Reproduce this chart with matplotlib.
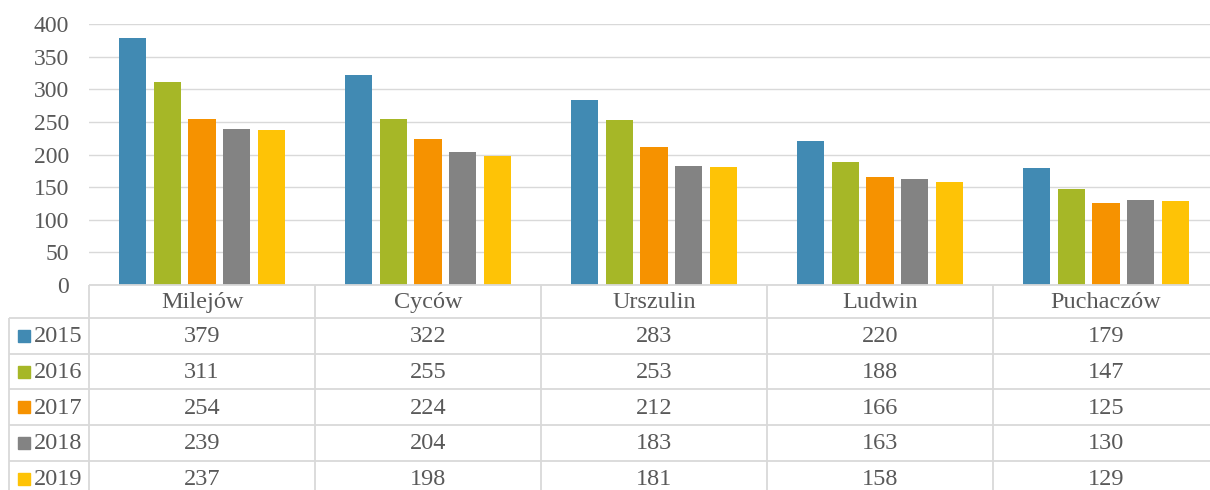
import matplotlib
matplotlib.use("Agg")
import matplotlib.pyplot as plt
import numpy as np

categories = ["Milejów", "Cyców", "Urszulin", "Ludwin", "Puchaczów"]
years = ["2015", "2016", "2017", "2018", "2019"]
v2015 = [379, 322, 283, 220, 179]
v2016 = [311, 255, 253, 188, 147]
v2017 = [254, 224, 212, 166, 125]
v2018 = [239, 204, 183, 163, 130]
v2019 = [237, 198, 181, 158, 129]
series = [v2015, v2016, v2017, v2018, v2019]
colors = ["#418AB3", "#A6B727", "#F69200", "#838383", "#FEC306"]
yticks = [0, 50, 100, 150, 200, 250, 300, 350, 400]

plt.rcParams['font.family'] = ['Liberation Serif', 'DejaVu Serif']
TXT = "#595959"
GRID = "#D9D9D9"
FS = 17.5
FS_Y = 17

W, H = 1210, 490
fig = plt.figure(figsize=(W / 100, H / 100), dpi=100)

left_px, right_px = 89, 1219
top_px, bottom_px = 24, 285
ax = fig.add_axes([left_px / W, 1 - bottom_px / H, (right_px - left_px) / W, (bottom_px - top_px) / H])
x = np.arange(len(categories))
pitch = 0.1535
bw = 0.122
for i, (vals, c) in enumerate(zip(series, colors)):
    ax.bar(x + (i - 2) * pitch, vals, width=bw, color=c, zorder=3)
ax.set_xlim(-0.5, len(categories) - 0.5)
ax.set_ylim(0, 400)
ax.set_yticks(yticks)
ax.set_yticklabels([str(t) for t in yticks], fontsize=FS_Y, color=TXT)
ax.tick_params(axis='y', length=0, pad=14.5)
ax.set_xticks([])
for s in ax.spines.values():
    s.set_visible(False)
ax.grid(axis='y', color=GRID, linewidth=1.0, zorder=0)
ax.set_axisbelow(True)

# table axes: x in category units, y in pixels from the axis bottom downwards
tab = fig.add_axes([left_px / W, 0, (right_px - left_px) / W, (H - bottom_px) / H])
tab.set_xlim(-0.5, len(categories) - 0.5)
tab.set_ylim(H - bottom_px, 0)
tab.axis('off')

cw_px = (right_px - left_px) / len(categories)
left_col = -0.5 - (left_px - 9) / cw_px
header_h = 33
row_h = 35.7
row_tops = [header_h + k * row_h for k in range(len(years) + 1)]
LW = 1.3
kw = dict(color=GRID, linewidth=LW, clip_on=False, solid_capstyle='butt')

# horizontal lines
tab.plot([-0.5, len(categories) - 0.5], [0, 0], **kw)
for yy in row_tops:
    tab.plot([left_col, len(categories) - 0.5], [yy, yy], **kw)
# vertical lines
for b in np.arange(-0.5, len(categories), 1.0):
    tab.plot([b, b], [0, H], **kw)
tab.plot([left_col, left_col], [header_h, H], **kw)

# header
for i, cat in enumerate(categories):
    tab.text(i, header_h / 2 + 1, cat, ha='center', va='center', fontsize=FS, color=TXT)
# rows
sq = 12 / cw_px
for r, (yr, vals, c) in enumerate(zip(years, series, colors)):
    yc = header_h + (r + 0.5) * row_h
    tab.add_patch(plt.Rectangle((-0.5 - (89 - 18) / cw_px, yc - 6), sq, 12, color=c, clip_on=False))
    tab.text(-0.5 - (89 - 34) / cw_px, yc + 1, yr, ha='left', va='center', fontsize=FS, color=TXT)
    for i, v in enumerate(vals):
        tab.text(i, yc + 1, str(v), ha='center', va='center', fontsize=FS, color=TXT)

fig.savefig("out.png", dpi=100)
